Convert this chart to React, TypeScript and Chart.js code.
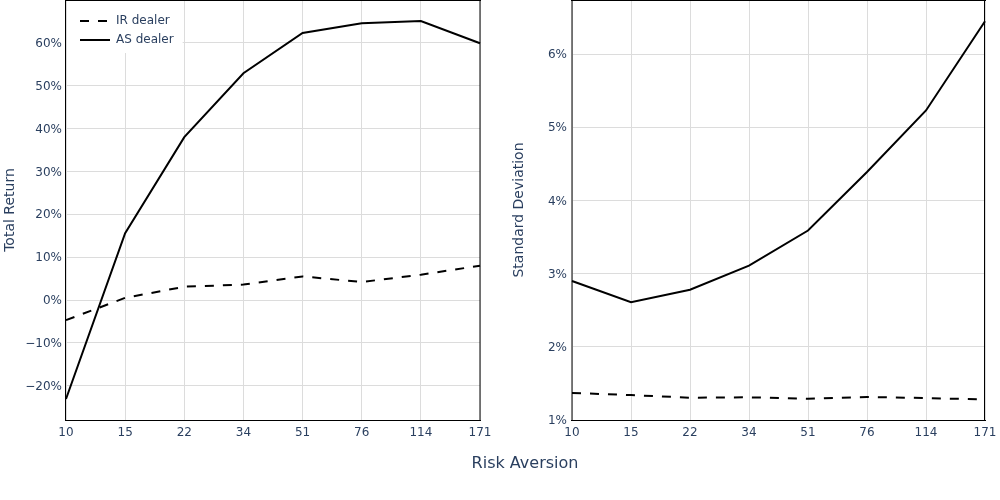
import React, { useEffect, useRef } from 'react';
import { Chart, registerables } from 'chart.js';

Chart.register(...registerables);

const riskAversion = ['10', '15', '22', '34', '51', '76', '114', '171'];
const totalReturnIR = [-4.7, 0.5, 3.1, 3.6, 5.5, 4.2, 5.9, 8.0];
const totalReturnAS = [-23.1, 15.6, 38.0, 52.9, 62.3, 64.6, 65.1, 59.9];
const stdDevIR = [1.37, 1.34, 1.305, 1.31, 1.29, 1.315, 1.3, 1.28];
const stdDevAS = [2.9, 2.61, 2.78, 3.11, 3.59, 4.39, 5.23, 6.45];
const totalReturnTicks = [-20, -10, 0, 10, 20, 30, 40, 50, 60];
const stdDevTicks = [1, 2, 3, 4, 5, 6];

const FONT = '"DejaVu Sans", Verdana, sans-serif';
const TEXT = '#2a3f5f';
const GRID = '#dcdcdc';

Chart.defaults.font.family = FONT;
Chart.defaults.color = TEXT;

const fmtPct = (v: number) => (v < 0 ? '\u2212' + Math.abs(v) : String(v)) + '%';

const framePlugin = (leftOff: number, rightOff: number) => ({
  id: 'frame',
  afterDraw(chart: any) {
    const { ctx, chartArea: a } = chart;
    ctx.save();
    ctx.strokeStyle = '#000';
    ctx.lineWidth = 1;
    ctx.setLineDash([]);
    ctx.beginPath();
    ctx.moveTo(a.left - 1, a.top + 0.5);
    ctx.lineTo(a.right + 1, a.top + 0.5);
    ctx.moveTo(a.left - 1, a.bottom + 0.5);
    ctx.lineTo(a.right + 1, a.bottom + 0.5);
    ctx.moveTo(a.left + leftOff, a.top);
    ctx.lineTo(a.left + leftOff, a.bottom + 1);
    ctx.moveTo(a.right + rightOff, a.top);
    ctx.lineTo(a.right + rightOff, a.bottom + 1);
    ctx.stroke();
    ctx.restore();
  },
});

const LEG_PAD = 7;
const SAMPLE_W = 30;
const legendBoxPlugin = {
  id: 'legendBox',
  afterLayout(chart: any) {
    const lg = chart.legend;
    if (!lg || !chart.options.plugins.legend.display) return;
    lg.left = chart.chartArea.left + 7;
    lg.top = chart.chartArea.top + 8;
  },
  afterDatasetsDraw(chart: any) {
    const lg = chart.legend;
    if (!lg || !chart.options.plugins.legend.display) return;
    const ctx = chart.ctx;
    const a = chart.chartArea;
    ctx.save();
    ctx.font = `12px ${FONT}`;
    const tw = Math.max(...lg.legendItems.map((i: any) => ctx.measureText(i.text).width));
    const x0 = a.left + 1;
    const y0 = a.top + 1;
    const x1 = lg.left + LEG_PAD + SAMPLE_W + 6 + tw + 9;
    const y1 = lg.top + LEG_PAD + lg.legendItems.length * (12 + LEG_PAD);
    ctx.fillStyle = '#ffffff';
    ctx.fillRect(x0, y0, x1 - x0, y1 - y0);
    ctx.restore();
    lg.draw();
    // line samples
    ctx.save();
    lg.legendItems.forEach((it: any, i: number) => {
      const y = Math.round(lg.top + LEG_PAD + i * (12 + LEG_PAD) + 6);
      const sx = lg.left + LEG_PAD;
      ctx.beginPath();
      ctx.strokeStyle = it.sampleColor;
      ctx.lineWidth = it.sampleWidth;
      ctx.setLineDash(it.sampleDash || []);
      ctx.moveTo(sx, y);
      ctx.lineTo(sx + SAMPLE_W, y);
      ctx.stroke();
    });
    ctx.restore();
  },
};

function makeChart(
  canvas: HTMLCanvasElement,
  ir: number[],
  as: number[],
  yMin: number,
  yMax: number,
  yTicks: number[],
  yTitle: string,
  yWidth: number,
  titlePad: number,
  tickPad: number,
  rightPad: number,
  showLegend: boolean,
  leftOff: number,
  rightOff: number
) {
  return new Chart(canvas, {
    type: 'line',
    data: {
      labels: riskAversion,
      datasets: [
        {
          label: 'IR dealer',
          data: ir,
          borderColor: '#000',
          backgroundColor: '#000',
          borderWidth: 2,
          borderDash: [9, 9],
          pointRadius: 0,
          tension: 0,
          fill: false,
        },
        {
          label: 'AS dealer',
          data: as,
          borderColor: '#000',
          backgroundColor: '#000',
          borderWidth: 2,
          pointRadius: 0,
          tension: 0,
          fill: false,
        },
      ],
    },
    options: {
      responsive: false,
      animation: false,
      devicePixelRatio: 1,
      layout: { padding: { left: 0, right: rightPad, top: 0, bottom: 0 } },
      plugins: {
        legend: {
          display: showLegend,
          position: 'chartArea' as any,
          align: 'start',
          labels: {
            boxWidth: SAMPLE_W,
            boxHeight: 12,
            padding: LEG_PAD,
            color: TEXT,
            font: { size: 12, family: FONT },
            generateLabels: (chart: any) =>
              (Chart.defaults.plugins.legend.labels.generateLabels as any)(chart).map((it: any) => ({
                ...it,
                sampleDash: it.lineDash,
                sampleColor: it.strokeStyle,
                sampleWidth: it.lineWidth,
                fillStyle: 'rgba(0,0,0,0)',
                strokeStyle: 'rgba(0,0,0,0)',
                lineWidth: 0,
              })),
          },
        },
        tooltip: { enabled: false },
      },
      scales: {
        x: {
          type: 'category',
          offset: false,
          grid: { color: GRID, drawTicks: false, offset: false },
          border: { display: false },
          ticks: {
            color: TEXT,
            font: { size: 12, family: FONT },
            padding: 6,
            maxRotation: 0,
            autoSkip: false,
          },
          afterFit: (s: any) => {
            s.height = 80;
            s.paddingLeft = 0;
            s.paddingRight = 0;
          },
        },
        y: {
          type: 'linear',
          min: yMin,
          max: yMax,
          grid: { color: GRID, drawTicks: false },
          border: { display: false },
          ticks: {
            color: TEXT,
            font: { size: 12, family: FONT },
            padding: tickPad,
            labelOffset: 1,
            callback: (v: any) => fmtPct(Number(v)),
          },
          afterBuildTicks: (s: any) => {
            s.ticks = yTicks.map((v) => ({ value: v }));
          },
          afterFit: (s: any) => {
            s.width = yWidth;
            s.paddingTop = 0;
            s.paddingBottom = 0;
          },
          title: {
            display: true,
            text: yTitle,
            color: TEXT,
            font: { size: 14, family: FONT },
            padding: { top: titlePad, bottom: 0 },
          },
        },
      },
    },
    plugins: [framePlugin(leftOff, rightOff), legendBoxPlugin],
  } as any);
}

export default function App() {
  const leftRef = useRef<HTMLCanvasElement>(null);
  const rightRef = useRef<HTMLCanvasElement>(null);

  useEffect(() => {
    let charts: Chart[] = [];
    let cancelled = false;
    const build = () => {
      if (cancelled || !leftRef.current || !rightRef.current) return;
      charts.push(
        makeChart(leftRef.current, totalReturnIR, totalReturnAS, -28, 70, totalReturnTicks,
          'Total Return', 66, 2, 4, 20, true, -0.5, 0)
      );
      charts.push(
        makeChart(rightRef.current, stdDevIR, stdDevAS, 1, 6.74, stdDevTicks,
          'Standard Deviation', 72, 11, 5, 15, false, 0, -0.5)
      );
    };
    const fonts = (document as any).fonts;
    if (fonts && fonts.load) {
      Promise.all([fonts.load(`12px ${FONT}`), fonts.load(`14px ${FONT}`)])
        .catch(() => undefined)
        .then(build);
    } else {
      build();
    }
    return () => {
      cancelled = true;
      charts.forEach((c) => c.destroy());
      charts = [];
    };
  }, []);

  return (
    <div
      style={{
        position: 'fixed',
        left: 0,
        top: 0,
        width: 1000,
        height: 500,
        background: '#fff',
        overflow: 'hidden',
      }}
    >
      <div style={{ position: 'absolute', left: 0, top: 0, width: 500, height: 500 }}>
        <canvas ref={leftRef} width={500} height={500} style={{ display: 'block' }} />
      </div>
      <div style={{ position: 'absolute', left: 500, top: 0, width: 500, height: 500 }}>
        <canvas ref={rightRef} width={500} height={500} style={{ display: 'block' }} />
      </div>
      <div
        style={{
          position: 'absolute',
          left: 525,
          top: 452,
          transform: 'translateX(-50%)',
          fontFamily: FONT,
          fontSize: 16,
          lineHeight: '22px',
          color: TEXT,
          whiteSpace: 'nowrap',
        }}
      >
        Risk Aversion
      </div>
    </div>
  );
}
